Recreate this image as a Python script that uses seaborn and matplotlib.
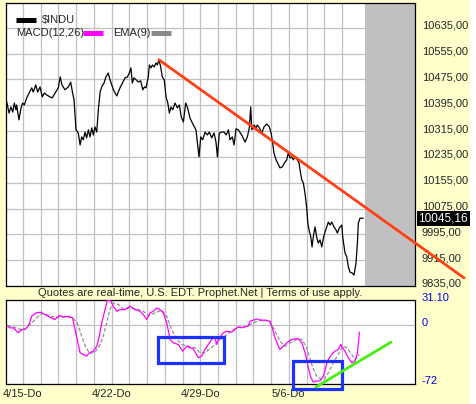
import matplotlib
matplotlib.use('Agg')
import matplotlib.pyplot as plt
import matplotlib.transforms as mtrans
from matplotlib.patches import Rectangle
import seaborn as sns

# $INDU intraday, time in trading days counted from 4/15
price_t = [-0.92, -0.79, -0.68, -0.58, -0.49, -0.40, -0.36, -0.23, -0.11, -0.02,
           0.07, 0.21, 0.49, 0.58, 0.72, 0.83, 0.96, 1.09, 1.20, 1.34,
           1.52, 1.65, 1.81, 1.99, 2.10, 2.20, 2.37, 2.56, 2.69, 2.80,
           2.88, 2.99, 3.12, 3.22, 3.31, 3.40, 3.50, 3.59, 3.69, 3.78,
           3.88, 3.97, 4.06, 4.16, 4.25, 4.35, 4.44, 4.57, 4.68, 4.81,
           4.91, 5.10, 5.29, 5.47, 5.76, 5.89, 6.00, 6.09, 6.17, 6.26,
           6.38, 6.51, 6.64, 6.76, 6.85, 6.94, 7.07, 7.13, 7.22, 7.30,
           7.39, 7.51, 7.58, 7.67, 7.77, 7.86, 7.97, 8.07, 8.17, 8.26,
           8.35, 8.45, 8.58, 8.71, 8.82, 8.93, 9.05, 9.18, 9.29, 9.42,
           9.61, 9.76, 9.84, 9.93, 10.03, 10.14, 10.27, 10.40, 10.51, 10.65,
           10.78, 10.89, 10.97, 11.08, 11.21, 11.34, 11.46, 11.59, 11.68, 11.81,
           11.91, 12.02, 12.15, 12.34, 12.53, 12.66, 12.77, 12.85, 12.91, 13.04,
           13.15, 13.22, 13.34, 13.47, 13.60, 13.75, 13.90, 14.00, 14.09, 14.16,
           14.28, 14.37, 14.50, 14.63, 14.75, 14.88, 14.97, 15.07, 15.16, 15.25,
           15.35, 15.48, 15.58, 15.63, 15.73, 15.82, 15.91, 16.01, 16.07, 16.14,
           16.24, 16.31, 16.38, 16.48, 16.57, 16.66, 16.76, 16.86, 16.95, 17.04,
           17.14, 17.23, 17.33, 17.42, 17.55, 17.66, 17.74, 17.85, 17.99, 18.04,
           18.17, 18.27, 18.36, 18.45, 18.58, 18.68, 18.79, 18.87, 18.92, 19.02,
           19.20]
price = [10406, 10371, 10390, 10374, 10402, 10381, 10396, 10350, 10387, 10402,
         10396, 10418, 10449, 10436, 10458, 10436, 10452, 10421, 10433, 10427,
         10421, 10418, 10433, 10449, 10483, 10458, 10443, 10452, 10467, 10433,
         10412, 10319, 10309, 10272, 10297, 10288, 10312, 10294, 10319, 10297,
         10325, 10303, 10328, 10312, 10381, 10436, 10452, 10464, 10483, 10495,
         10474, 10443, 10424, 10449, 10480, 10483, 10495, 10511, 10464, 10480,
         10474, 10467, 10471, 10443, 10452, 10449, 10483, 10520, 10511, 10520,
         10514, 10526, 10520, 10536, 10514, 10483, 10474, 10421, 10402, 10371,
         10390, 10381, 10402, 10387, 10396, 10359, 10343, 10402, 10387, 10356,
         10334, 10319, 10278, 10235, 10297, 10288, 10312, 10303, 10312, 10294,
         10309, 10281, 10235, 10309, 10312, 10312, 10303, 10319, 10288, 10297,
         10272, 10322, 10319, 10303, 10281, 10297, 10325, 10390, 10319, 10334,
         10325, 10334, 10325, 10309, 10328, 10337, 10328, 10309, 10278, 10247,
         10226, 10216, 10201, 10204, 10216, 10226, 10247, 10232, 10235, 10226,
         10235, 10226, 10216, 10195, 10164, 10154, 10123, 10077, 10030, 10009,
         9987, 9956, 9987, 10018, 9987, 9968, 9978, 9956, 9984, 10002,
         10018, 10033, 10024, 10033, 10018, 10009, 9999, 10015, 10024, 9987,
         9937, 9925, 9894, 9878, 9875, 9869, 9906, 9968, 10030, 10045.16,
         10045.16]
last_price = 10045.16

# MACD(12,26)
macd_t = [-0.89, -0.73, -0.55, -0.45, -0.27, -0.07, 0.11, 0.30, 0.49, 0.73,
          1.00, 1.24, 1.52, 1.81, 2.05, 2.27, 2.56, 2.80, 2.93, 3.06,
          3.22, 3.40, 3.59, 3.74, 3.97, 4.16, 4.31, 4.44, 4.63, 4.76,
          4.91, 5.10, 5.29, 5.47, 5.76, 6.04, 6.32, 6.60, 6.79, 6.98,
          7.17, 7.35, 7.55, 7.69, 7.92, 8.11, 8.30, 8.48, 8.76, 9.01,
          9.24, 9.42, 9.61, 9.89, 10.08, 10.27, 10.46, 10.65, 10.84, 10.93,
          11.02, 11.16, 11.30, 11.50, 11.78, 11.96, 12.15, 12.34, 12.53, 12.71,
          12.81, 13.00, 13.19, 13.37, 13.66, 13.94, 14.09, 14.22, 14.41, 14.50,
          14.69, 14.88, 15.16, 15.35, 15.54, 15.73, 15.86, 15.97, 16.10, 16.25,
          16.38, 16.57, 16.76, 16.95, 17.10, 17.23, 17.42, 17.61, 17.79, 17.93,
          18.04, 18.17, 18.36, 18.55, 18.74, 18.87, 18.94, 18.98]
macd = [-1.2, -3.3, -3.3, -5.3, -9.4, -5.3, -5.3, -1.2, 11.1, 15.2,
        16.0, 13.1, 9.8, 7.0, 11.9, 10.2, 11.1, 9.0, -5.3, -17.6,
        -34.1, -36.1, -38.2, -34.1, -32.0, -25.9, -13.5, 2.9, 19.3, 30.8,
        31.0, 23.4, 17.2, 19.3, 19.3, 23.4, 19.3, 17.2, 13.1, 7.0,
        15.2, 17.2, 21.3, 20.0, 15.2, 2.9, -17.6, -21.8, -23.8, -32.0,
        -25.9, -28.0, -29.2, -40.2, -38.2, -29.9, -23.8, -17.6, -15.6, -23.8,
        -17.6, -13.5, -9.4, -7.4, -8.6, -5.3, -2.1, -3.3, -2.1, -1.2,
        4.9, 6.2, 7.8, 6.2, 6.2, 4.9, -5.3, -15.6, -25.9, -29.9,
        -25.9, -21.8, -17.6, -16.8, -16.8, -21.8, -29.9, -38.2, -52.5, -64.8,
        -70.2, -68.9, -68.9, -62.8, -50.5, -42.3, -36.1, -32.0, -29.9, -23.8,
        -28.0, -32.0, -40.2, -46.4, -44.3, -34.1, -19.7, -8.6]

# EMA(9) of the MACD
ema_t = [-0.89, -0.55, -0.17, 0.11, 0.49, 0.77, 1.06, 1.34, 1.71, 2.09,
         2.47, 2.80, 3.06, 3.31, 3.56, 3.78, 4.06, 4.31, 4.53, 4.72,
         4.91, 5.10, 5.38, 5.66, 6.04, 6.42, 6.79, 7.07, 7.45, 7.83,
         8.11, 8.39, 8.67, 8.96, 9.33, 9.71, 9.99, 10.27, 10.55, 10.74,
         11.12, 11.50, 11.87, 12.25, 12.62, 13.00, 13.37, 13.84, 14.03, 14.22,
         14.50, 14.79, 15.07, 15.45, 15.73, 15.97, 16.16, 16.35, 16.57, 16.76,
         16.99, 17.23, 17.51, 17.79, 18.04, 18.27, 18.55, 18.74, 18.98]
ema = [-0.4, -2.1, -5.3, -4.5, 2.9, 9.0, 14.4, 13.1, 10.2, 10.2,
       10.2, 9.0, 2.9, -13.5, -28.0, -34.9, -33.2, -25.9, -13.5, 2.9,
       19.3, 27.5, 25.5, 20.0, 21.3, 20.0, 17.2, 11.9, 15.2, 18.5,
       11.1, -5.3, -17.6, -23.8, -25.9, -28.0, -34.1, -34.1, -29.0, -25.9,
       -17.6, -11.5, -5.3, -2.1, -1.2, 2.9, 6.2, 5.7, 0.8, -7.4,
       -19.7, -25.9, -21.8, -17.6, -17.6, -25.9, -38.2, -52.5, -62.8, -66.1,
       -66.9, -58.7, -46.4, -36.1, -25.9, -28.0, -36.1, -42.3, -36.1]

date_ticks = [0, 5, 10, 15]
date_labels = ['4/15-Do', '4/22-Do', '4/29-Do', '5/6-Do']
price_ticks = [9835, 9915, 9995, 10075, 10155, 10235, 10315, 10395, 10475, 10555, 10635]
macd_ticks = [31.10, 0, -72]
macd_labels = ['31.10', '0', '-72']

# drawn annotations
trend_price_t = [7.67, 24.89]
trend_price = [10536, 9860]
trend_macd_t = [16.53, 20.77]
trend_macd = [-76.3, -20.9]
boxes = [(7.62, 11.34, -46.8, -14.8), (15.24, 18.0, -78.8, -44.3)]

sns.set_style('white')
plt.rcParams['font.family'] = ['Liberation Sans', 'DejaVu Sans']
plt.rcParams['font.size'] = 8

W, H = 477, 404
fig = plt.figure(figsize=(W / 100, H / 100), dpi=100, facecolor='#FFFFCC')
fig.patches.append(Rectangle((470 / W, 0), 7 / W, 1, transform=fig.transFigure,
                             facecolor='white', edgecolor='none'))


def box(l, t, r, b):
    return [l / W, 1 - b / H, (r - l) / W, (b - t) / H]


ax = fig.add_axes(box(6, 3, 415, 286))
ax2 = fig.add_axes(box(6, 300, 415, 383.5))
up = mtrans.ScaledTranslation(0, 3 / 100, fig.dpi_scale_trans)

# price panel
ax.set_facecolor('white')
ax.set_xlim(-0.96, 22.12)
ax.set_ylim(9835, 10712)
ax.set_xticks(range(19))
ax.set_yticks(price_ticks)
ax.set_yticklabels([f'{v:.2f}'.replace('.', ',') for v in price_ticks])
ax.yaxis.tick_right()
ax.tick_params(length=0, labelbottom=False, pad=5, labelsize=8)
ax.set_axisbelow(True)
ax.grid(color='#C0C0C0', lw=0.9)
ax.axvspan(19.3, 22.12, color='#C0C0C0', lw=0, zorder=1)
sns.lineplot(x=price_t, y=price, color='black', lw=0.9, ax=ax,
             estimator=None, sort=False, zorder=3)
ax.plot(trend_price_t, trend_price, color='#FF4010', lw=2, clip_on=False, zorder=6)
for lab in ax.get_yticklabels():
    lab.set_transform(lab.get_transform() + up)
ax.text(1.008, last_price, f'{last_price:.2f}'.replace('.', ','), color='white',
        transform=mtrans.blended_transform_factory(ax.transAxes, ax.transData),
        ha='left', va='center', fontsize=8.5,
        bbox=dict(facecolor='black', edgecolor='none', pad=1.2))
for s in ax.spines.values():
    s.set_color('black')
    s.set_linewidth(0.9)

# legend block
def fx(x):
    return x / W


def fy(y):
    return 1 - y / H


fig.lines.append(plt.Line2D([fx(16), fx(36)], [fy(20), fy(20)], transform=fig.transFigure,
                            color='black', lw=3.6, solid_capstyle='butt'))
fig.text(fx(42), fy(20), '$INDU', ha='left', va='center', fontsize=8)
fig.text(fx(16), fy(33), 'MACD(12,26)', ha='left', va='center', fontsize=8)
fig.lines.append(plt.Line2D([fx(83), fx(103)], [fy(33), fy(33)], transform=fig.transFigure,
                            color='#FF00FF', lw=3.6, solid_capstyle='butt'))
fig.text(fx(113), fy(33), 'EMA(9)', ha='left', va='center', fontsize=8)
fig.lines.append(plt.Line2D([fx(151), fx(171)], [fy(33), fy(33)], transform=fig.transFigure,
                            color='#888888', lw=3.6, solid_capstyle='butt'))

fig.text(fx(200), fy(293), 'Quotes are real-time, U.S. EDT. Prophet.Net | Terms of use apply.',
         ha='center', va='center', fontsize=8)

# MACD panel
ax2.set_facecolor('white')
ax2.set_xlim(-0.96, 22.12)
ax2.set_ylim(-72, 31.1)
ax2.set_xticks(date_ticks)
ax2.set_xticklabels(date_labels)
ax2.set_xticks(range(19), minor=True)
ax2.set_yticks(macd_ticks)
ax2.set_yticklabels(macd_labels, color='#0000EE')
ax2.yaxis.tick_right()
ax2.tick_params(which='both', length=0, pad=4, labelsize=8)
ax2.tick_params(axis='y', pad=5)
ax2.set_axisbelow(True)
ax2.grid(which='both', color='#C0C0C0', lw=0.9)
sns.lineplot(x=ema_t, y=ema, color='#909090', lw=0.9, linestyle=(0, (3, 1.5)), ax=ax2,
             estimator=None, sort=False, zorder=3)
sns.lineplot(x=macd_t, y=macd, color='#FF00FF', lw=0.9, ax=ax2,
             estimator=None, sort=False, zorder=4)
for x0, x1, y0, y1 in boxes:
    ax2.add_patch(Rectangle((x0, y0), x1 - x0, y1 - y0, fill=False, edgecolor='#1E32FF',
                            lw=2.3, clip_on=False, zorder=5))
ax2.plot(trend_macd_t, trend_macd, color='#44EE11', lw=2, clip_on=False, zorder=6)
for lab in ax2.get_yticklabels():
    lab.set_transform(lab.get_transform() + up)
for s in ax2.spines.values():
    s.set_color('black')
    s.set_linewidth(0.9)

fig.savefig('out.png', dpi=100, facecolor=fig.get_facecolor())
